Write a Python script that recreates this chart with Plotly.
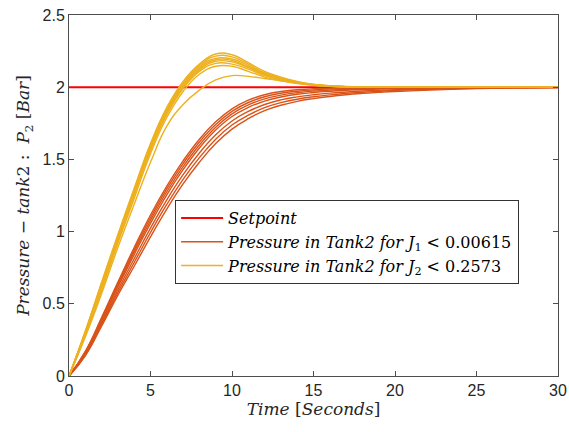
import plotly.graph_objects as go

# ---- data ----
time = [0, 1, 2, 3, 4, 5, 6, 7, 8, 9, 10, 11, 12, 13, 14, 15, 16, 17, 18, 19, 20, 25, 30]

setpoint_t = [0, 30]
setpoint_v = [2, 2]

# Pressure in Tank2, J1 group (orange)
o1 = [0, 0.170, 0.405, 0.650, 0.890, 1.115, 1.315, 1.490, 1.640, 1.760, 1.850, 1.910, 1.948, 1.970, 1.982, 1.989, 1.993, 1.996, 1.998, 1.999, 2.000, 2.000, 2.000]
o2 = [0, 0.166, 0.397, 0.639, 0.874, 1.096, 1.296, 1.471, 1.621, 1.742, 1.833, 1.894, 1.934, 1.958, 1.972, 1.981, 1.987, 1.991, 1.994, 1.996, 1.997, 1.999, 2.000]
o3 = [0, 0.162, 0.389, 0.628, 0.858, 1.077, 1.276, 1.450, 1.600, 1.723, 1.815, 1.877, 1.919, 1.945, 1.962, 1.973, 1.980, 1.985, 1.989, 1.992, 1.994, 1.998, 2.000]
o4 = [0, 0.158, 0.381, 0.616, 0.841, 1.057, 1.255, 1.429, 1.579, 1.703, 1.797, 1.860, 1.904, 1.932, 1.951, 1.963, 1.972, 1.979, 1.984, 1.987, 1.990, 1.996, 1.999]
o5 = [0, 0.151, 0.368, 0.596, 0.812, 1.024, 1.220, 1.394, 1.544, 1.670, 1.766, 1.832, 1.880, 1.912, 1.933, 1.948, 1.959, 1.967, 1.974, 1.979, 1.983, 1.994, 1.999]
o6 = [0, 0.145, 0.356, 0.578, 0.786, 0.994, 1.188, 1.362, 1.512, 1.640, 1.738, 1.806, 1.858, 1.893, 1.917, 1.934, 1.947, 1.957, 1.965, 1.971, 1.977, 1.992, 1.998]
o7 = [0, 0.140, 0.345, 0.560, 0.760, 0.964, 1.156, 1.330, 1.480, 1.610, 1.710, 1.782, 1.838, 1.875, 1.902, 1.921, 1.936, 1.948, 1.957, 1.964, 1.970, 1.990, 1.998]
orange_curves = [o1, o2, o3, o4, o5, o6, o7]

# Pressure in Tank2, J2 group (yellow)
y1 = [0, 0.310, 0.650, 0.980, 1.300, 1.610, 1.860, 2.040, 2.160, 2.230, 2.225, 2.170, 2.110, 2.070, 2.040, 2.020, 2.010, 2.004, 2.001, 2.000, 2.000, 2.000, 2.000]
y2 = [0, 0.310, 0.640, 0.970, 1.290, 1.600, 1.850, 2.030, 2.150, 2.215, 2.210, 2.160, 2.100, 2.065, 2.037, 2.018, 2.009, 2.004, 2.001, 2.000, 2.000, 2.000, 2.000]
y3 = [0, 0.300, 0.630, 0.960, 1.280, 1.590, 1.840, 2.020, 2.140, 2.200, 2.195, 2.150, 2.095, 2.060, 2.034, 2.017, 2.008, 2.003, 2.001, 2.000, 2.000, 2.000, 2.000]
y4 = [0, 0.300, 0.620, 0.950, 1.270, 1.580, 1.830, 2.010, 2.130, 2.190, 2.185, 2.140, 2.090, 2.057, 2.032, 2.016, 2.008, 2.003, 2.001, 2.000, 2.000, 2.000, 2.000]
y5 = [0, 0.290, 0.610, 0.940, 1.260, 1.570, 1.820, 2.000, 2.120, 2.180, 2.175, 2.135, 2.085, 2.054, 2.030, 2.015, 2.007, 2.003, 2.001, 2.000, 2.000, 2.000, 2.000]
y6 = [0, 0.290, 0.600, 0.930, 1.250, 1.560, 1.810, 1.990, 2.110, 2.165, 2.160, 2.125, 2.080, 2.050, 2.028, 2.014, 2.007, 2.003, 2.001, 2.000, 2.000, 2.000, 2.000]
y7 = [0, 0.280, 0.590, 0.920, 1.230, 1.540, 1.790, 1.970, 2.090, 2.145, 2.145, 2.110, 2.070, 2.045, 2.025, 2.013, 2.006, 2.002, 2.001, 2.000, 2.000, 2.000, 2.000]
y8 = [0, 0.270, 0.570, 0.890, 1.190, 1.480, 1.730, 1.880, 1.980, 2.050, 2.080, 2.075, 2.060, 2.045, 2.030, 2.018, 2.010, 2.005, 2.002, 2.001, 2.000, 2.000, 2.000]
yellow_curves = [y1, y2, y3, y4, y5, y6, y7, y8]

x_ticks = [0, 5, 10, 15, 20, 25, 30]
y_ticks = [0, 0.5, 1, 1.5, 2, 2.5]
y_tick_labels = ["0", "0.5", "1", "1.5", "2", "2.5"]

RED = "#FF0000"
ORANGE = "#D95319"
YELLOW = "#EDB120"
SERIF = "DejaVu Serif"

fig = go.Figure()

fig.add_trace(go.Scatter(
    x=setpoint_t, y=setpoint_v, mode="lines",
    line=dict(color=RED, width=2),
    name="<i>Setpoint</i>", legendgroup="sp"))

for i, c in enumerate(orange_curves):
    fig.add_trace(go.Scatter(
        x=time, y=c, mode="lines",
        line=dict(color=ORANGE, width=1.4, shape="spline", smoothing=1.3),
        name="<i>Pressure in Tank2 for J</i><sub>1</sub>&nbsp;&lt;&nbsp;0.00615",
        legendgroup="o", showlegend=(i == 0)))

for i, c in enumerate(yellow_curves):
    fig.add_trace(go.Scatter(
        x=time, y=c, mode="lines",
        line=dict(color=YELLOW, width=1.4, shape="spline", smoothing=1.3),
        name="<i>Pressure in Tank2 for J</i><sub>2</sub>&nbsp;&lt;&nbsp;0.2573",
        legendgroup="y", showlegend=(i == 0)))

axis_common = dict(
    showline=True, linecolor="#4d4d4d", linewidth=1, mirror="ticks",
    ticks="inside", ticklen=5, tickcolor="#4d4d4d", tickwidth=1,
    showgrid=False, zeroline=False, automargin=False,
    tickfont=dict(family="Liberation Sans, Arial, sans-serif", size=16, color="#262626"),
)

fig.update_layout(
    width=569, height=432,
    margin=dict(l=69, r=11, t=15, b=56),
    paper_bgcolor="white", plot_bgcolor="white",
    showlegend=True,
    legend=dict(
        x=0.217, y=0.4875, xanchor="left", yanchor="top",
        bgcolor="white", bordercolor="#333333", borderwidth=1,
        font=dict(family=SERIF, size=16, color="black"),
        tracegroupgap=0, itemwidth=42,
    ),
    xaxis=dict(
        range=[0, 30], tickvals=x_ticks,
        title=dict(text="<i>Time</i> [<i>Seconds</i>]",
                   font=dict(family=SERIF, size=17, color="#262626"), standoff=4),
        **axis_common),
    yaxis=dict(
        range=[0, 2.5], tickvals=y_ticks, ticktext=y_tick_labels,
        title=dict(text="<i>Pressure</i> − <i>tank</i>2 :  <i>P</i><sub>2</sub> [<i>Bar</i>]",
                   font=dict(family=SERIF, size=17, color="#262626"), standoff=8),
        **axis_common),
)

fig.write_html("out.html", config={"displayModeBar": False},
               post_script="document.body.style.margin='0';document.body.style.overflow='hidden';")
